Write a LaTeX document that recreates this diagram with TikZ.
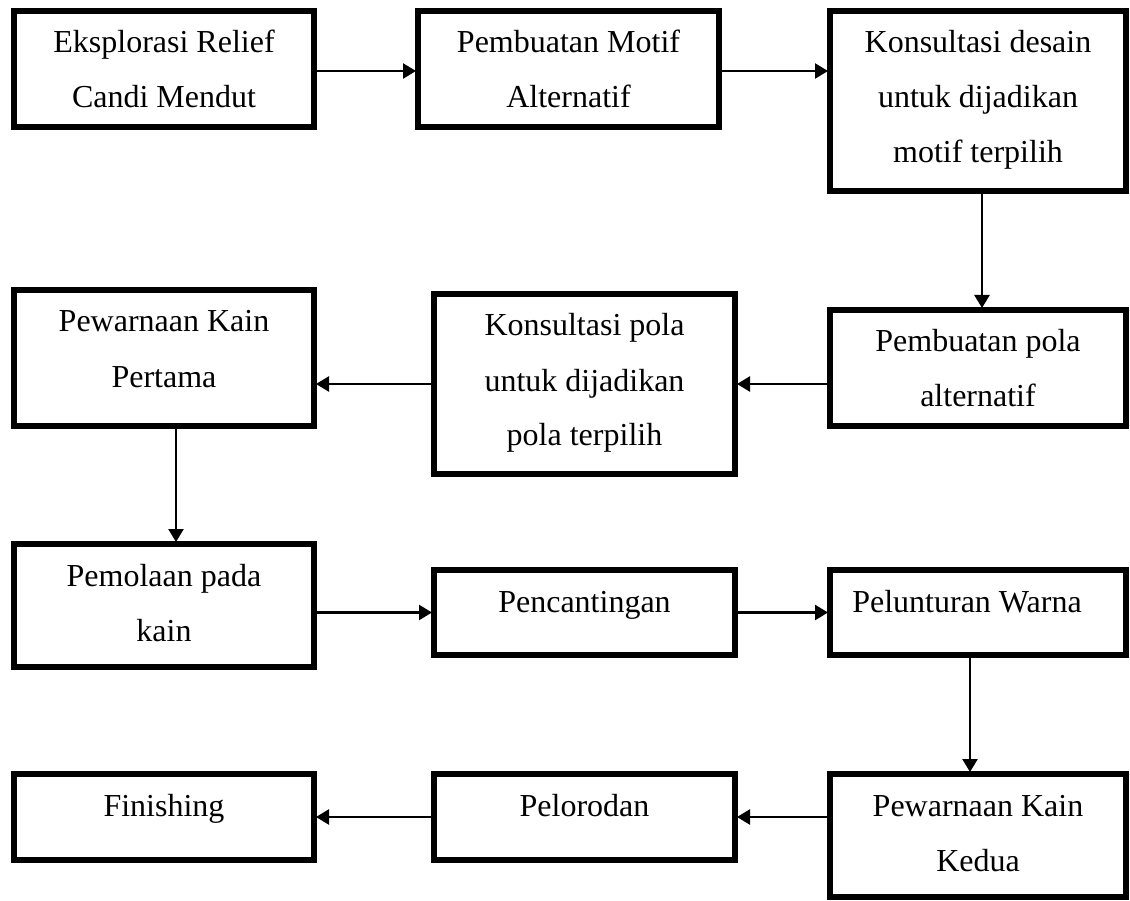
\documentclass[tikz,border=0pt]{standalone}
\usepackage{fontspec}
\setmainfont{Liberation Serif}
\usepackage{tikz}
\usetikzlibrary{arrows.meta,positioning,calc}

% text set from the top of each box, like the word processor boxes
\newcommand{\stagebox}[3]{\parbox[t][#2pt][t]{#1pt}{\centering\rule{0pt}{42pt}#3}}

\begin{document}
\begin{tikzpicture}[
  x=1pt, y=-1pt,
  every node/.style={font=\fontsize{32}{55}\selectfont},
  stage/.style={draw, line width=6pt, inner sep=0pt, outer sep=0pt, anchor=north west},
  flow/.style={line width=2.5pt, -{Triangle[length=13pt,width=15pt]}, shorten >=2pt}
]
\useasboundingbox (0,0) rectangle (1130,901);

% row 1
\node[stage] (eksplorasi) at (14,11) {\stagebox{300}{116}{Eksplorasi Relief\\Candi Mendut}};
\node[stage] (motif) at (418,11) {\stagebox{301}{116}{Pembuatan Motif\\Alternatif}};
\node[stage] (konsulDesain) at (830,11) {\stagebox{296}{180}{Konsultasi desain\\untuk dijadikan\\motif terpilih}};

% row 2
\node[stage] (polaAlt) at (830,310) {\stagebox{296}{116}{Pembuatan pola\\alternatif}};
\node[stage] (konsulPola) at (434,294) {\stagebox{301}{180}{Konsultasi pola\\untuk dijadikan\\pola terpilih}};
\node[stage] (warnaPertama) at (14,290) {\stagebox{300}{136}{Pewarnaan Kain\\Pertama}};

% row 3
\node[stage] (pemolaan) at (14,544) {\stagebox{300}{123}{Pemolaan pada\\kain}};
\node[stage] (canting) at (434,570) {\stagebox{301}{85}{Pencantingan}};
\node[stage] (luntur) at (830,570) {\stagebox{296}{85}{Pelunturan Warna\hspace*{22pt}}};

% row 4
\node[stage] (warnaKedua) at (830,774) {\stagebox{296}{123}{Pewarnaan Kain\\Kedua}};
\node[stage] (lorod) at (434,774) {\stagebox{301}{86}{Pelorodan}};
\node[stage] (finishing) at (14,774) {\stagebox{300}{86}{Finishing}};

% connectors
\draw[flow] ([yshift=-2pt]eksplorasi.east) -- ([yshift=-2pt]motif.west);
\draw[flow] ([yshift=-2pt]motif.east) -- ([yshift=-2pt]motif.east -| konsulDesain.west);
\draw[flow] ([xshift=4pt]konsulDesain.south) -- ([xshift=4pt]konsulDesain.south |- polaAlt.north);
\draw[flow] (polaAlt.west |- konsulPola) -- (konsulPola.east);
\draw[flow] (konsulPola.west) -- (konsulPola.west -| warnaPertama.east);
\draw[flow] ([xshift=12pt]warnaPertama.south) -- ([xshift=12pt]warnaPertama.south |- pemolaan.north);
\draw[flow] (pemolaan.east |- canting) -- (canting.west);
\draw[flow] (canting) -- (luntur);
\draw[flow] ([xshift=-8pt]luntur.south) -- ([xshift=-8pt]luntur.south |- warnaKedua.north);
\draw[flow] (warnaKedua.west |- lorod) -- (lorod.east);
\draw[flow] (lorod) -- (finishing);
\end{tikzpicture}
\end{document}
